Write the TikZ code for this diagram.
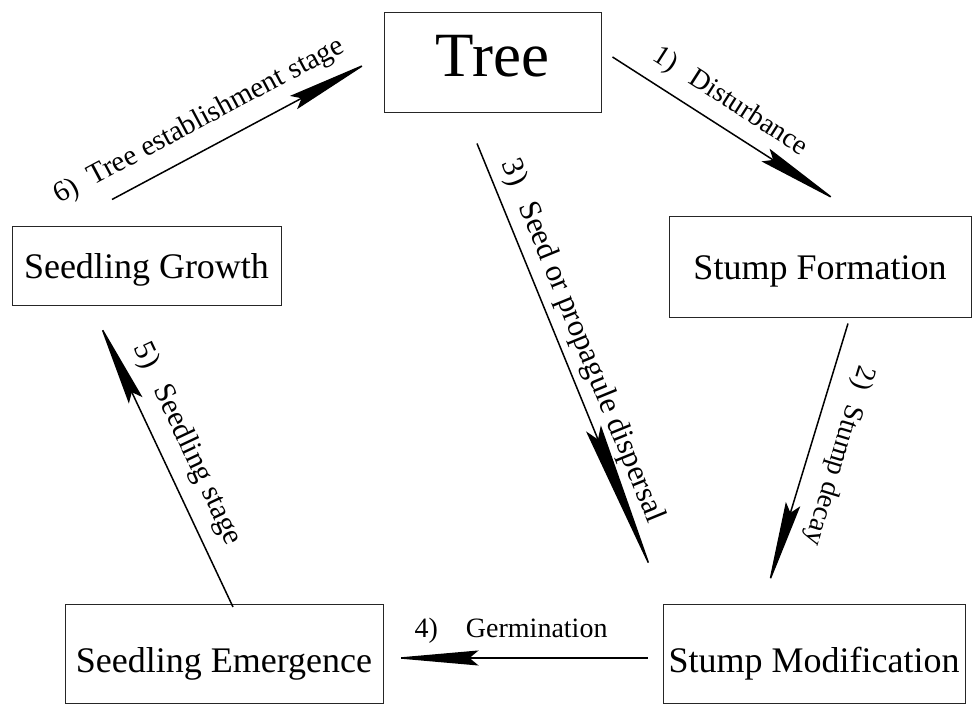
\documentclass[tikz,border=0pt]{standalone}
\usepackage{fontspec}
\setmainfont{Liberation Serif}
\usetikzlibrary{arrows.meta}

\tikzset{
  stage/.style={draw=black!85, line width=1pt, inner sep=0pt, text depth=0pt,
    font=\fontsize{36}{40}\selectfont},
  flow/.style={-{Stealth[length=86pt,width=15pt,inset=9pt]}, line width=1.5pt},
  lbl/.style={font=\fontsize{28}{32}\selectfont, sloped, inner sep=0pt, text depth=0pt}
}

\begin{document}
\begin{tikzpicture}[x=1pt,y=1pt]
  \useasboundingbox (0,0) rectangle (975,706);

  % stages of the cycle
  \node[stage, minimum width=217pt, minimum height=100pt, text depth=14pt,
        font=\fontsize{63}{66}\selectfont] (tree) at (492.5,643) {Tree};
  \node[stage, minimum width=302pt, minimum height=101pt] (form) at (820,438.5) {Stump Formation};
  \node[stage, minimum width=302pt, minimum height=99pt, text height=36pt] (modif) at (814,51.5) {Stump Modification};
  \node[stage, minimum width=318pt, minimum height=99pt, text height=36pt] (emerg) at (224,51.5) {Seedling Emergence};
  \node[stage, minimum width=269pt, minimum height=79pt] (growth) at (146.5,439.5) {Seedling Growth};

  % transitions
  \draw[flow] ([xshift=11pt,yshift=6pt]tree.east) -- ([xshift=18pt,yshift=15pt]form.north)
    node[lbl, pos=0.46, above=18pt] {1)\hspace{0.7em}Disturbance};
  \draw[flow] ([xshift=28pt,yshift=-5pt]form.south) -- ([xshift=-46pt,yshift=18pt]modif.north)
    node[lbl, allow upside down, pos=0.47, above=22pt] {2)\hspace{0.6em}Stump decay};
  \draw[flow, -{Stealth[length=160pt,width=16pt,inset=12pt]}]
    ([xshift=-15.5pt,yshift=-30pt]tree.south) -- ([xshift=-160pt,yshift=28pt]modif.north)
    node[lbl, font=\fontsize{31}{34}\selectfont, pos=0.476, above=14pt] {3)\hspace{0.65em}Seed or propagule dispersal};
  \draw[flow] ([xshift=-15pt,yshift=-3.5pt]modif.west) -- ([xshift=9pt,yshift=-3.5pt]emerg.east)
    node[lbl, pos=0.535, above=20pt] {4)\hspace{1em}Germination};
  \draw[flow] ([xshift=9pt,yshift=-2.5pt]emerg.north) -- ([xshift=-47.5pt,yshift=-16pt]growth.south)
    node[lbl, font=\fontsize{30}{33}\selectfont, pos=0.53, above=20pt] {5)\hspace{0.7em}Seedling stage};
  \draw[flow] ([xshift=-34.5pt,yshift=27pt]growth.north) -- ([xshift=-14pt,yshift=1pt]tree.west)
    node[lbl, font=\fontsize{29}{32}\selectfont, pos=0.39, above=20pt] {6)\hspace{0.5em}Tree establishment stage};
\end{tikzpicture}
\end{document}
